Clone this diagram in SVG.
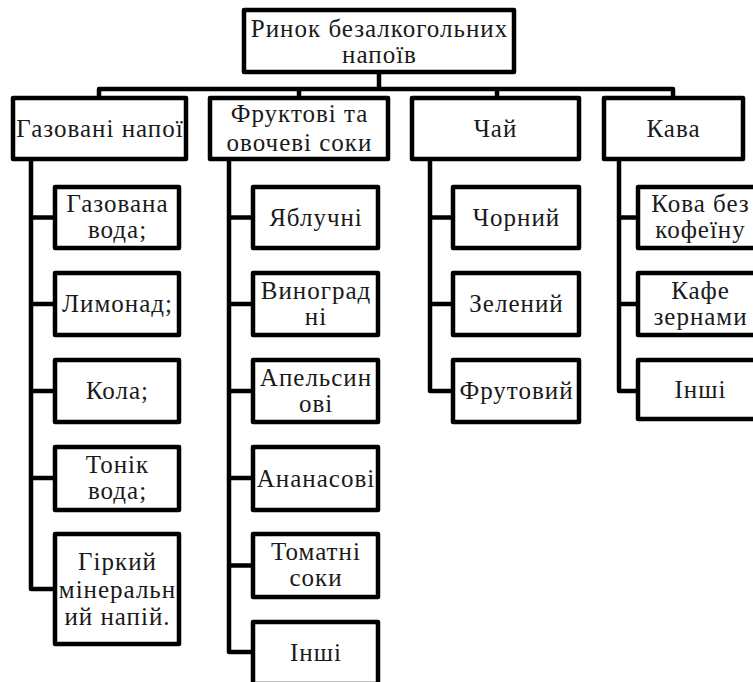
<svg xmlns="http://www.w3.org/2000/svg" width="753" height="682" viewBox="0 0 753 682">
<style>
.box{fill:#fff;stroke:#000;stroke-width:4.5;stroke-linejoin:round}
.ln{fill:none;stroke:#000;stroke-width:4.5;stroke-linejoin:round}
</style>
<rect width="753" height="682" fill="#fff"/>
<g id="connectors">
<path class="ln" d="M379,72V89M99,98V89H673V98M299,89V98M497,89V98"/>
<path class="ln" d="M31,159V589H55M31,217.5H55M31,304H55M31,391H55M31,478H55"/>
<path class="ln" d="M229,159V652H253M229,217.5H253M229,304H253M229,391H253M229,478H253M229,565.5H253"/>
<path class="ln" d="M430,159V391H453M430,217.5H453M430,304H453"/>
<path class="ln" d="M619,159V391H638M619,217.5H638M619,304H638"/>
</g>
<g font-family="Liberation Serif, Tinos, DejaVu Serif, serif" font-size="25" letter-spacing="1" fill="#1a1a1a" text-anchor="middle">
<g id="root"><rect class="box" x="244" y="10" width="270" height="62"/><text x="379.5" y="37">Ринок безалкогольних</text><text x="379.5" y="63">напоїв</text></g>
<g id="gaz"><rect class="box" x="13" y="98" width="173" height="61"/><text x="100" y="137">Газовані напої</text></g>
<g id="fruit"><rect class="box" x="210" y="98" width="178" height="61"/><text x="299.5" y="122">Фруктові та</text><text x="299.5" y="151">овочеві соки</text></g>
<g id="tea"><rect class="box" x="412" y="98" width="167" height="61"/><text x="495.5" y="137">Чай</text></g>
<g id="coffee"><rect class="box" x="604" y="98" width="139" height="61"/><text x="673.5" y="137">Кава</text></g>

<g id="g1"><rect class="box" x="55" y="187" width="124" height="61"/><text x="117.5" y="212">Газована</text><text x="117.5" y="238">вода;</text></g>
<g id="g2"><rect class="box" x="55" y="273" width="124" height="62"/><text x="117.5" y="312">Лимонад;</text></g>
<g id="g3"><rect class="box" x="55" y="360" width="124" height="62"/><text x="117.5" y="399">Кола;</text></g>
<g id="g4"><rect class="box" x="55" y="447" width="124" height="63"/><text x="117.5" y="473">Тонік</text><text x="117.5" y="499">вода;</text></g>
<g id="g5"><rect class="box" x="55" y="534" width="124" height="110"/><text x="117.5" y="570">Гіркий</text><text x="117.5" y="598">мінеральн</text><text x="117.5" y="625">ий напій.</text></g>

<g id="f1"><rect class="box" x="253" y="187" width="125" height="61"/><text x="316" y="226">Яблучні</text></g>
<g id="f2"><rect class="box" x="253" y="273" width="125" height="62"/><text x="316" y="299">Виноград</text><text x="316" y="325">ні</text></g>
<g id="f3"><rect class="box" x="253" y="360" width="125" height="62"/><text x="316" y="386">Апельсин</text><text x="316" y="412">ові</text></g>
<g id="f4"><rect class="box" x="253" y="447" width="125" height="63"/><text x="316" y="487">Ананасові</text></g>
<g id="f5"><rect class="box" x="253" y="534" width="125" height="63"/><text x="316" y="560">Томатні</text><text x="316" y="586">соки</text></g>
<g id="f6"><rect class="box" x="253" y="622" width="125" height="62"/><text x="316" y="661">Інші</text></g>

<g id="t1"><rect class="box" x="453" y="187" width="126" height="61"/><text x="516.5" y="226">Чорний</text></g>
<g id="t2"><rect class="box" x="453" y="273" width="126" height="62"/><text x="516.5" y="312">Зелений</text></g>
<g id="t3"><rect class="box" x="453" y="360" width="126" height="62"/><text x="516.5" y="399">Фрутовий</text></g>

<g id="c1"><rect class="box" x="638" y="187" width="124" height="61"/><text x="700.5" y="212">Кова без</text><text x="700.5" y="238">кофеїну</text></g>
<g id="c2"><rect class="box" x="638" y="273" width="124" height="62"/><text x="700.5" y="299">Кафе</text><text x="700.5" y="325">зернами</text></g>
<g id="c3"><rect class="box" x="638" y="360" width="124" height="59"/><text x="700.5" y="398">Інші</text></g>
</g>
</svg>
